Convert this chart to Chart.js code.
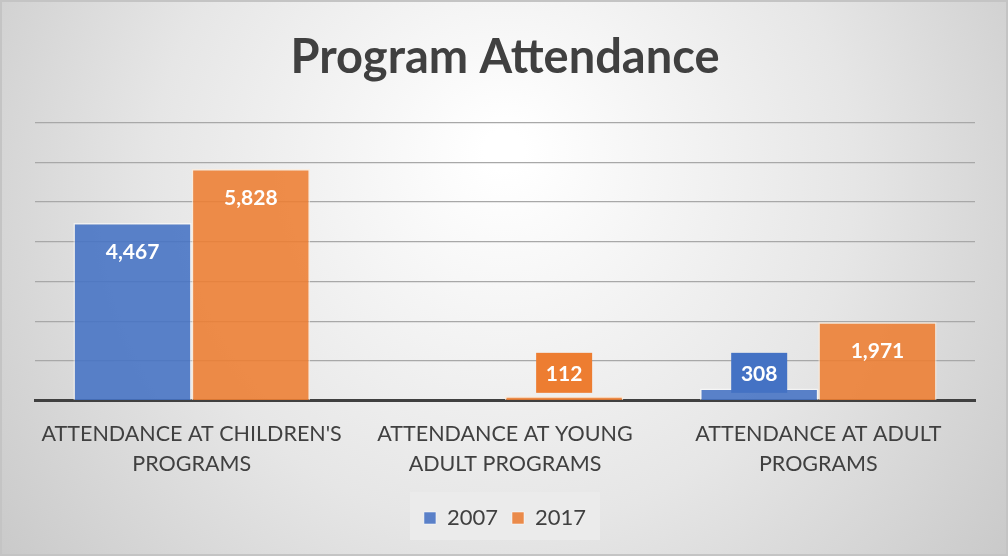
<!DOCTYPE html>
<html>
<head>
<meta charset="utf-8">
<script src="https://cdn.jsdelivr.net/npm/chart.js@4/dist/chart.umd.min.js"></script>
<style>
  body { margin: 0; background: #ffffff; }
  #chart { display: block; }
</style>
</head>
<body>
<canvas id="chart" width="1008" height="556"></canvas>
<script>
// data
let categories = [
    ["ATTENDANCE AT CHILDREN'S", "PROGRAMS"],
    ["ATTENDANCE AT YOUNG", "ADULT PROGRAMS"],
    ["ATTENDANCE AT ADULT", "PROGRAMS"]
];
let seriesNames = ["2007", "2017"];
let values2007 = [4467, null, 308];
let values2017 = [5828, 112, 1971];
let yTicks = [0, 1000, 2000, 3000, 4000, 5000, 6000, 7000];

let blue = "#4472C4";
let orange = "#ED7D31";
let fontFamily = "Lato, 'Open Sans', sans-serif";

// gray radial background + frame + legend box
let backgroundPlugin = {
    id: "bg",
    beforeDraw(chart) {
        let ctx = chart.ctx;
        let w = chart.width, h = chart.height;
        ctx.save();
        let grad = ctx.createRadialGradient(w / 2, 150, 20, w / 2, 200, 620);
        grad.addColorStop(0, "#ffffff");
        grad.addColorStop(0.55, "#e6e6e6");
        grad.addColorStop(1, "#c9c9c9");
        ctx.fillStyle = grad;
        ctx.fillRect(0, 0, w, h);
        ctx.strokeStyle = "#c4c4c4";
        ctx.lineWidth = 2;
        ctx.strokeRect(1, 1, w - 2, h - 2);

        let lg = chart.legend;
        let cy = lg.top + lg.height / 2;
        ctx.fillStyle = "rgba(235,235,235,0.9)";
        ctx.fillRect(lg.left + (lg.width - 190) / 2, cy - 24, 190, 48);
        ctx.restore();
    }
};

// value labels: inside the bar for tall bars, boxed above for short ones
let labelPlugin = {
    id: "valueLabels",
    afterDatasetsDraw(chart) {
        let ctx = chart.ctx;
        ctx.save();
        ctx.font = "bold 21px " + fontFamily;
        ctx.textAlign = "center";
        ctx.textBaseline = "middle";
        chart.data.datasets.forEach((ds, di) => {
            let meta = chart.getDatasetMeta(di);
            meta.data.forEach((bar, i) => {
                let v = ds.data[i];
                if (v === null) return;
                let text = v.toLocaleString("en-US");
                let height = bar.base - bar.y;
                if (height > 60) {
                    ctx.fillStyle = "#ffffff";
                    ctx.fillText(text, bar.x, bar.y + 29);
                } else {
                    let boxW = 56, boxH = 40;
                    let cy = chart.scales.y.getPixelForValue(700);
                    ctx.fillStyle = ds.labelBox;
                    ctx.fillRect(bar.x - boxW / 2, cy - boxH / 2, boxW, boxH);
                    ctx.fillStyle = "#ffffff";
                    ctx.fillText(text, bar.x, cy + 1);
                }
            });
        });
        ctx.restore();
    }
};

let chart = new Chart(document.getElementById("chart"), {
    type: "bar",
    data: {
        labels: categories,
        datasets: [
            {
                label: seriesNames[0],
                data: values2007,
                backgroundColor: "rgba(68,114,196,0.88)",
                borderColor: "rgba(255,255,255,0.55)",
                borderWidth: 1.5,
                labelBox: blue
            },
            {
                label: seriesNames[1],
                data: values2017,
                backgroundColor: "rgba(237,125,49,0.88)",
                borderColor: "rgba(255,235,215,0.7)",
                borderWidth: 1.5,
                labelBox: orange
            }
        ]
    },
    options: {
        responsive: false,
        animation: false,
        layout: {
            padding: { left: 35, right: 33, top: 0, bottom: 17 }
        },
        datasets: {
            bar: { categoryPercentage: 0.755, barPercentage: 1.0 }
        },
        plugins: {
            title: {
                display: true,
                text: "Program Attendance",
                color: "#404040",
                font: { family: fontFamily, size: 47, weight: "bold" },
                padding: { top: 30, bottom: 36 }
            },
            legend: {
                position: "bottom",
                labels: {
                    color: "#404040",
                    font: { family: fontFamily, size: 22 },
                    boxWidth: 12,
                    boxHeight: 12,
                    padding: 14,
                    generateLabels(chart) {
                        return chart.data.datasets.map((ds, i) => ({
                            text: ds.label,
                            fillStyle: i === 0 ? "#5a80c8" : "#ea8a4a",
                            strokeStyle: "rgba(255,255,255,0.5)",
                            lineWidth: 1,
                            fontColor: "#404040",
                            datasetIndex: i
                        }));
                    }
                }
            },
            tooltip: { enabled: false }
        },
        scales: {
            x: {
                grid: { display: false },
                border: { display: true, color: "#404040", width: 3 },
                ticks: {
                    color: "#404040",
                    font: { family: fontFamily, size: 21.5, lineHeight: 1.38 },
                    maxRotation: 0,
                    padding: 11
                },
                afterFit(scale) {
                    scale.height += 3;
                }
            },
            y: {
                min: 0,
                max: 7000,
                afterBuildTicks(axis) {
                    axis.ticks = yTicks.map(v => ({ value: v }));
                },
                ticks: { display: false },
                border: { display: false },
                grid: {
                    color: ctx => ctx.tick && ctx.tick.value === 0 ? "rgba(0,0,0,0)" : "#a8a8a8",
                    lineWidth: 1.3,
                    drawTicks: false
                }
            }
        }
    },
    plugins: [backgroundPlugin, labelPlugin]
});
</script>
</body>
</html>
